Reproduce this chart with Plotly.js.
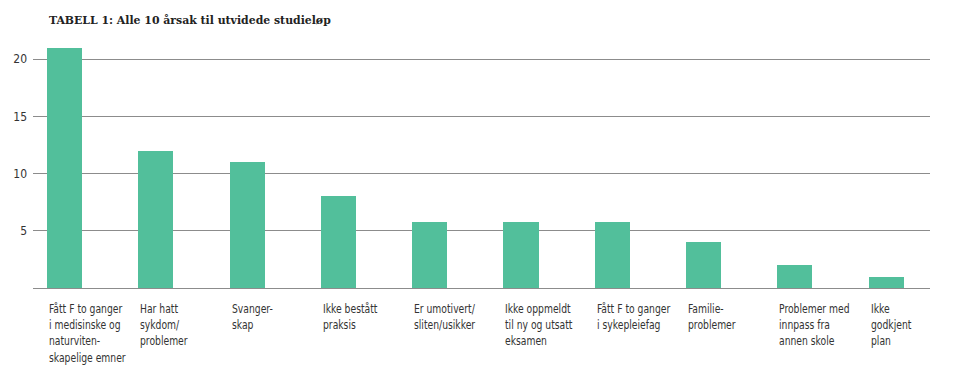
<!DOCTYPE html>
<html><head><meta charset="utf-8">
<script src="https://cdn.plot.ly/plotly-3.0.1.min.js"></script>
<style>
body{margin:0;background:#fff}#c{width:958px;height:369px}
#c .annotation-text{transform-box:fill-box;transform-origin:0 0;transform:scaleX(0.82)}
</style>
</head><body><div id="c"></div>
<script>
const categories = [
  "Fått F to ganger<br>i medisinske og<br>naturviten-<br>skapelige emner",
  "Har hatt<br>sykdom/<br>problemer",
  "Svanger-<br>skap",
  "Ikke bestått<br>praksis",
  "Er umotivert/<br>sliten/usikker",
  "Ikke oppmeldt<br>til ny og utsatt<br>eksamen",
  "Fått F to ganger<br>i sykepleiefag",
  "Familie-<br>problemer",
  "Problemer med<br>innpass fra<br>annen skole",
  "Ikke<br>godkjent<br>plan"
];
const values = [21, 12, 11, 8, 5.8, 5.8, 5.8, 4, 2, 1];
const yTicks = [5, 10, 15, 20];
const titleText = "TABELL 1: Alle 10 årsak til utvidede studieløp";

const idx = categories.map((_, i) => i);
const barW = 0.385;
const labelFont = {family: "DejaVu Sans Condensed, sans-serif", size: 12.5, color: "#333"};

const annotations = categories.map((c, i) => ({
  x: i - barW / 2, xref: "x", xanchor: "left",
  y: 0, yref: "y", yanchor: "top", yshift: -11,
  text: c, showarrow: false, align: "left",
  font: labelFont
}));

Plotly.newPlot("c", [{
  type: "bar", x: idx, y: values, width: barW,
  marker: {color: "#52bf9b"}, hoverinfo: "skip"
}], {
  width: 958, height: 369,
  margin: {l: 33, r: 28, t: 42, b: 81},
  paper_bgcolor: "#fff", plot_bgcolor: "#fff",
  title: {text: "<b>" + titleText + "</b>", x: 17/958, xanchor: "left", xref: "paper", y: 1 - 20.5/369, yanchor: "middle",
    font: {family: "DejaVu Serif, serif", size: 10.9, color: "#222"}},
  xaxis: {range: [-0.345, 9.48], showticklabels: false, showgrid: false, zeroline: false, fixedrange: true},
  yaxis: {range: [0, 21.5], tickvals: yTicks, ticktext: yTicks.map(String), showgrid: true, gridcolor: "#8c8c8c", gridwidth: 1,
    zeroline: true, zerolinecolor: "#8c8c8c", zerolinewidth: 1, ticks: "", ticklabelstandoff: 5,
    tickfont: {family: "DejaVu Sans Condensed, sans-serif", size: 12, color: "#333"}},
  annotations: annotations,
  bargap: 0, showlegend: false
}, {staticPlot: true});
</script></body></html>
